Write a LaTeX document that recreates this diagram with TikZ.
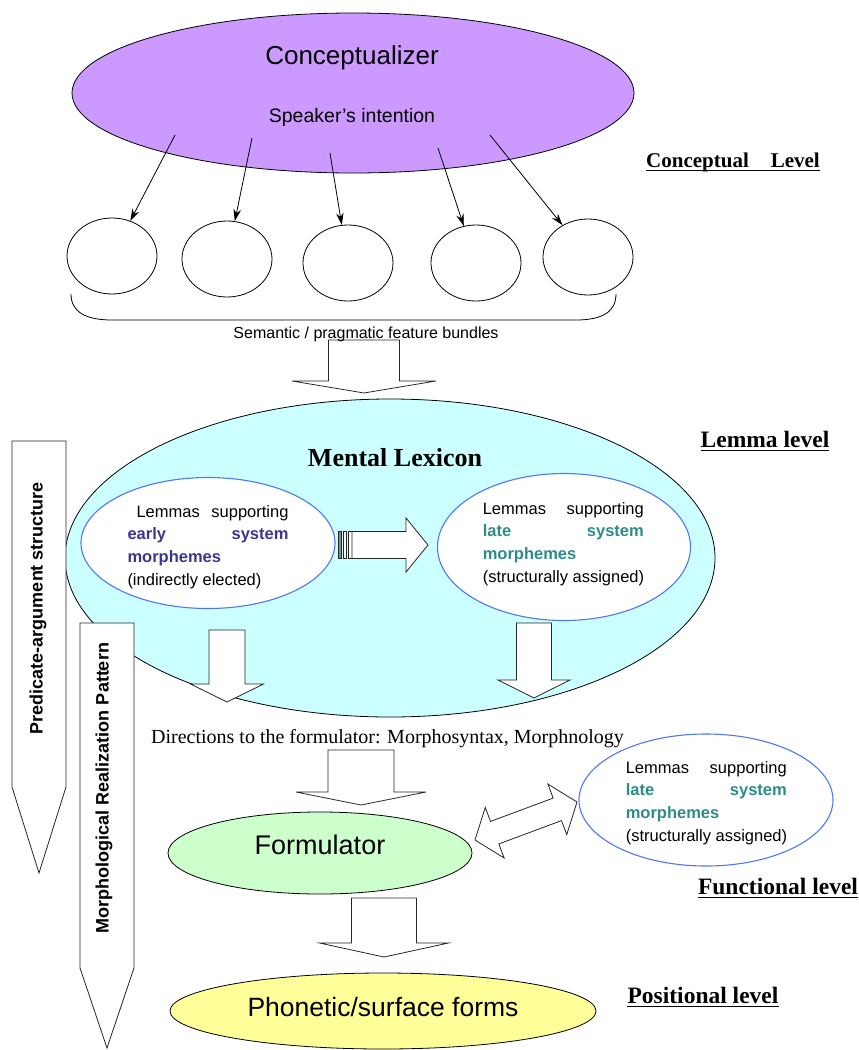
\documentclass[tikz,border=0pt]{standalone}
\usepackage{fontspec}
\setmainfont{Liberation Serif}
\setsansfont{Liberation Sans}
\usetikzlibrary{shapes.geometric,arrows.meta,calc}

\definecolor{conceptfill}{RGB}{204,153,255}
\definecolor{lexfill}{RGB}{204,255,255}
\definecolor{formfill}{RGB}{204,255,204}
\definecolor{phonfill}{RGB}{255,255,153}
\definecolor{lemline}{RGB}{80,120,240}
\definecolor{earlyc}{RGB}{60,55,140}
\definecolor{latec}{RGB}{45,140,135}

% width of the justified lemma lines
\newcommand\lemw{161pt}

% hollow downward block arrow: #1 top, #2 tip, #3 half body, #4 half head, #5 head length
\newcommand\blockdown[5]{%
  \draw[blockarr] ($(#1)+(-#3,0)$) -- ($(#2)+(-#3,-#5)$) -- ($(#2)+(-#4,-#5)$)
    -- (#2) -- ($(#2)+(#4,-#5)$) -- ($(#2)+(#3,-#5)$) -- ($(#1)+(#3,0)$) -- cycle;}

\tikzset{
  bigoval/.style={ellipse, draw=black, line width=0.8pt, inner sep=0pt},
  lemoval/.style={ellipse, draw=lemline, line width=1.1pt, fill=white, inner sep=0pt},
  bundle/.style={ellipse, draw=black, line width=0.8pt, fill=white,
    minimum width=90pt, minimum height=76pt, inner sep=0pt},
  blockarr/.style={draw=black!85, line width=0.8pt, fill=white, line join=miter},
  feed/.style={line width=0.8pt, -{Stealth[length=12pt,width=7.5pt]}},
  lemtext/.style={align=left, inner sep=0pt,
    font=\sffamily\fontsize{16.5}{22.7}\selectfont},
  level/.style={anchor=base, inner sep=0pt,
    font=\bfseries\fontsize{23.5}{28}\selectfont},
  vlabel/.style={rotate=90, inner sep=0pt,
    font=\sffamily\bfseries\fontsize{18}{21}\selectfont},
  uline/.style={line width=1.5pt}
}

\begin{document}
\begin{tikzpicture}[x=1pt,y=-1pt]
\useasboundingbox (0,0) rectangle (859,1050);

% ---------- conceptual level ----------
\node[bigoval, fill=conceptfill, minimum width=562pt, minimum height=160pt] (concept) at (353,93) {};
\node[font=\sffamily\fontsize{26}{30}\selectfont] (ctitle) at (352,58) {Conceptualizer};
\node[font=\sffamily\fontsize{19.5}{23}\selectfont] (intent) at (352,117) {Speaker’s intention};

\node[bundle] (c1) at (112,256) {};
\node[bundle] (c2) at (227,259) {};
\node[bundle] (c3) at (348,263) {};
\node[bundle] (c4) at (476,263) {};
\node[bundle] (c5) at (588,257) {};

\coordinate (s1) at (175,135);
\coordinate (s2) at (252,138);
\coordinate (s3) at (330,153);
\coordinate (s4) at (438,148);
\coordinate (s5) at (490,135);
\draw[feed] (s1) -- (c1);
\draw[feed] (s2) -- (c2);
\draw[feed] (s3) -- (c3);
\draw[feed] (s4) -- (c4);
\draw[feed] (s5) -- (c5);

% bracket under the bundles
\draw[line width=0.8pt] (71,294) .. controls (71,312) and (86,320) .. (112,320)
  -- (576,320) .. controls (602,320) and (616,312) .. (616,294);

\node[level, font=\bfseries\fontsize{21}{25}\selectfont] (lvconcept) at (733,167) {Conceptual\hspace{22pt}Level};
\draw[uline] ($(lvconcept.base west)+(0,3.5)$) -- ($(lvconcept.base east)+(0,3.5)$);

% arrow into the lexicon
\coordinate (a1top) at (364,340);
\coordinate (a1tip) at (364,393);
\blockdown{a1top}{a1tip}{35.5}{72}{12}
\node[font=\sffamily\fontsize{16}{19}\selectfont] (bundles) at (366,334) {Semantic / pragmatic feature bundles};

% ---------- lemma level ----------
\node[bigoval, fill=lexfill, minimum width=650pt, minimum height=318pt] (lexicon) at (390,558) {};
\node[font=\bfseries\fontsize{26}{30}\selectfont] (lextitle) at (395,458) {Mental Lexicon};

\node[lemoval, minimum width=254pt, minimum height=131pt] (early) at (208,543) {};
\node[lemtext] (earlyt) at (208,547) {%
  \makebox[\lemw][s]{\hspace*{9pt}Lemmas supporting}\\
  \makebox[\lemw][s]{\bfseries\color{earlyc}early system}\\
  {\bfseries\color{earlyc}morphemes}\\
  (indirectly elected)};

\node[lemoval, minimum width=253pt, minimum height=147pt] (late) at (564,547) {};
\node[lemtext] (latet) at (563.5,544) {%
  \makebox[\lemw][s]{Lemmas supporting}\\
  \makebox[\lemw][s]{\bfseries\color{latec}late system}\\
  {\bfseries\color{latec}morphemes}\\
  (structurally assigned)};

% striped arrow between the two lemma groups
\coordinate (mt) at (338,545);
\coordinate (mh) at (428,545);
\draw[blockarr, fill=black!45] ($(mt)+(0,-13.5)$) rectangle ($(mt)+(3,13.5)$);
\draw[blockarr] ($(mt)+(5,-13.5)$) rectangle ($(mt)+(8.5,13.5)$);
\draw[blockarr] ($(mt)+(10.5,-13.5)$) rectangle ($(mt)+(14,13.5)$);
\draw[blockarr] ($(mt)+(14,-13.5)$) -- ($(mh)+(-22,-13.5)$) -- ($(mh)+(-22,-27)$)
  -- (mh) -- ($(mh)+(-22,27)$) -- ($(mh)+(-22,13.5)$) -- ($(mt)+(14,13.5)$) -- cycle;

% arrows leaving the lexicon
\coordinate (a2top) at (227,630);
\coordinate (a2tip) at (227,702);
\blockdown{a2top}{a2tip}{18}{36.5}{18}
\coordinate (a3top) at (534,623);
\coordinate (a3tip) at (534,698);
\blockdown{a3top}{a3tip}{17.5}{36}{18}

\node[level] (lvlemma) at (765,447) {Lemma level};
\draw[uline] ($(lvlemma.base west)+(0,3.5)$) -- ($(lvlemma.base east)+(0,3.5)$);

% side arrows
\draw[blockarr] (12,441) -- (66,441) -- (66,787) -- (39,873) -- (12,787) -- cycle;
\node[vlabel] (pas) at (38,608) {Predicate-argument structure};
\draw[blockarr] (80,623) -- (134,623) -- (134,968) -- (107,1048) -- (80,968) -- cycle;
\node[vlabel] (mrp) at (104,788) {Morphological Realization Pattern};

% ---------- functional level ----------
\node[font=\fontsize{20}{24}\selectfont] (directions) at (387.5,739)
  {Directions to the formulator: Morphosyntax, Morphnology};

\coordinate (a4top) at (361,750);
\coordinate (a4tip) at (361,805);
\blockdown{a4top}{a4tip}{33}{65}{13}

\node[bigoval, fill=formfill, minimum width=304pt, minimum height=82pt] (formulator) at (320,853) {};
\node[font=\sffamily\fontsize{27}{31}\selectfont] (ftitle) at (320,845) {Formulator};

\node[lemoval, minimum width=254pt, minimum height=132pt] (late2) at (706,800) {};
\node[lemtext] (late2t) at (706.5,803) {%
  \makebox[\lemw][s]{Lemmas supporting}\\
  \makebox[\lemw][s]{\bfseries\color{latec}late system}\\
  {\bfseries\color{latec}morphemes}\\
  (structurally assigned)};

% two-way arrow between formulator and lemmas
\coordinate (dl) at (475,840);
\coordinate (dr) at (577,802);
\begin{scope}[shift={(dl)}, rotate=20.43]
  \draw[blockarr] (0,0) -- (21,-27) -- (21,-12) -- (87.85,-12) -- (87.85,-27)
    -- (108.85,0) -- (87.85,27) -- (87.85,12) -- (21,12) -- (21,27) -- cycle;
\end{scope}

\node[level] (lvfunc) at (778,894) {Functional level};
\draw[uline] ($(lvfunc.base west)+(0,3.5)$) -- ($(lvfunc.base east)+(0,3.5)$);

% ---------- positional level ----------
\coordinate (a5top) at (384,898);
\coordinate (a5tip) at (384,957);
\blockdown{a5top}{a5tip}{32.5}{64.5}{14}

\node[bigoval, fill=phonfill, minimum width=426pt, minimum height=76pt] (phon) at (383,1011) {};
\node[font=\sffamily\fontsize{26.5}{30}\selectfont] (ptitle) at (383,1007) {Phonetic/surface forms};

\node[level] (lvpos) at (703,1003) {Positional level};
\draw[uline] ($(lvpos.base west)+(0,3.5)$) -- ($(lvpos.base east)+(0,3.5)$);

\end{tikzpicture}
\end{document}
